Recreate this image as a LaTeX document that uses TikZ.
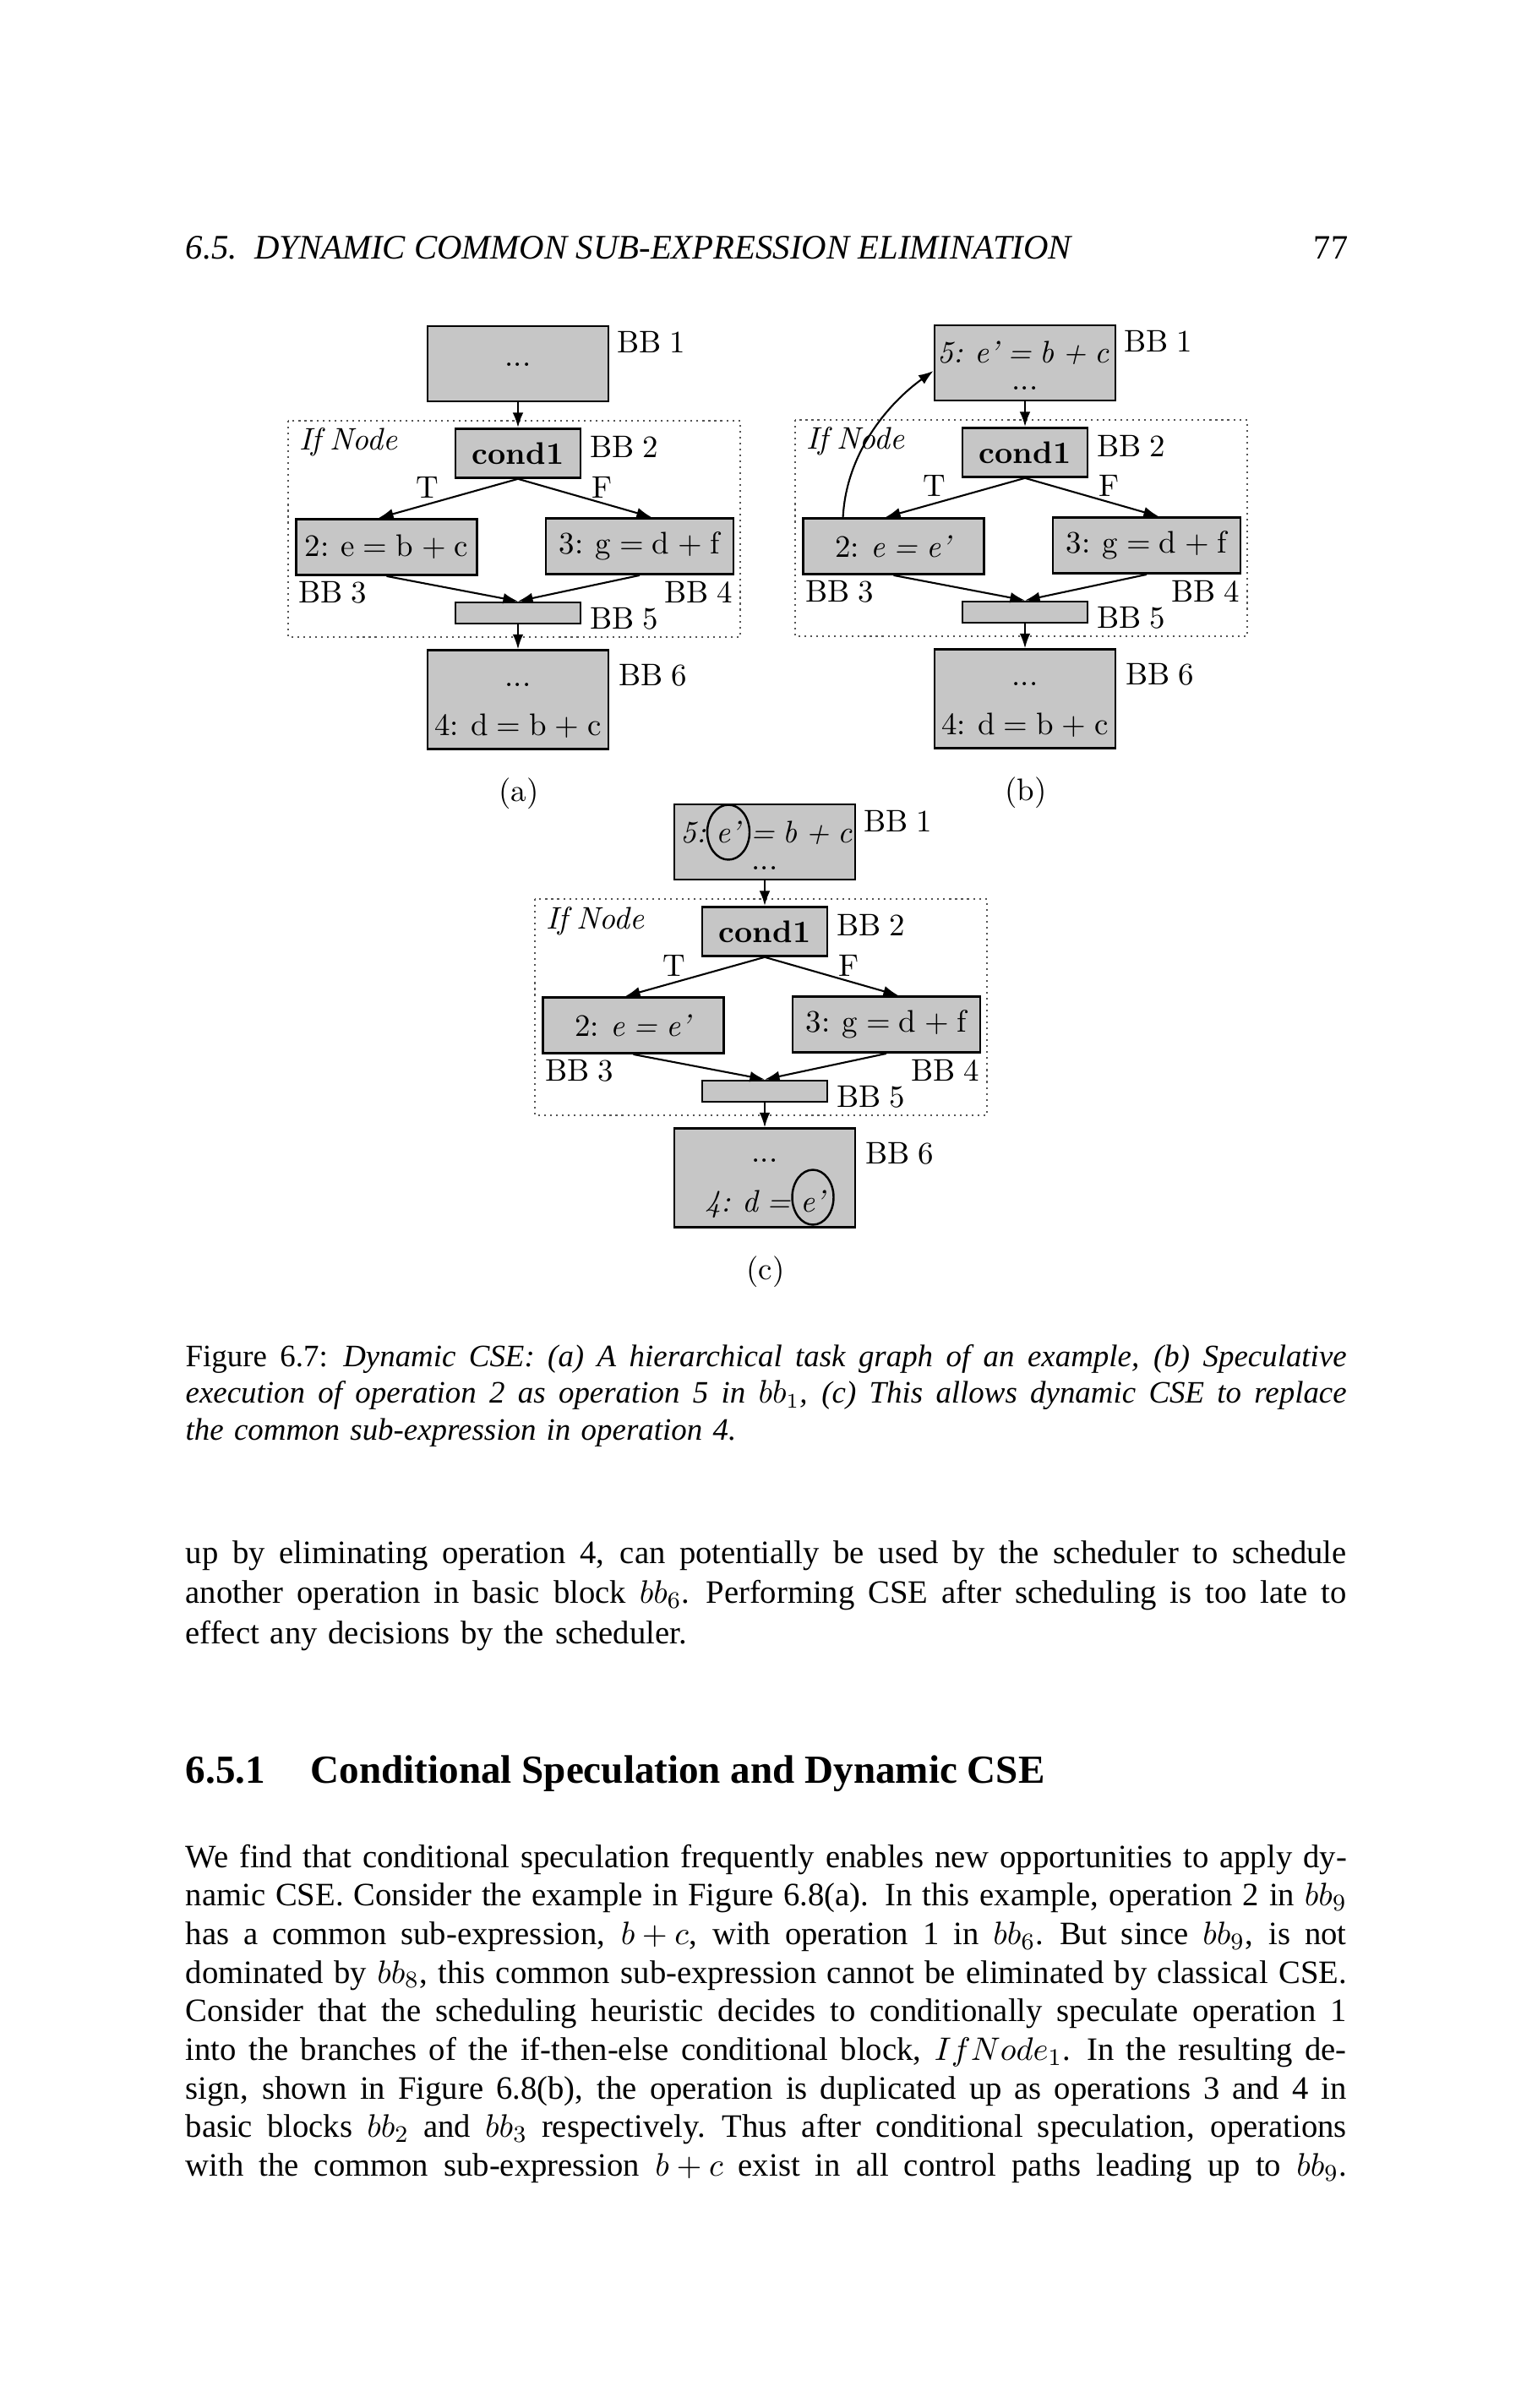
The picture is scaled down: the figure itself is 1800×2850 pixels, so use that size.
\documentclass[tikz,border=0pt]{standalone}
\usepackage{fontspec}
\newfontfamily\bookfont{Liberation Serif}
\usetikzlibrary{arrows.meta,positioning,calc}
\definecolor{boxgray}{RGB}{198,198,198}
\definecolor{framegray}{RGB}{85,85,85}
\newcommand{\diagfont}{\rmfamily\fontsize{10.5}{12.6}\selectfont\spaceskip=0.27em\relax}
\newcommand{\jline}[1]{\leavevmode\hbox to \linewidth{\spaceskip=0.25em plus 1em minus 0.05em\relax\medmuskip=4mu\relax\thickmuskip=5mu\relax #1}}

% one hierarchical task graph: #1 prefix, #2 text of BB 3
\newcommand{\ifgraph}[2]{%
  \node[bbox, minimum width=21.4mm, minimum height=8.9mm] (#1-bb1) at (272,-67.5) {};
  \node[bbox, minimum width=14.8mm, minimum height=5.8mm, font=\diagfont\bfseries] (#1-cond) at (272,38.4) {cond1};
  \node[bbox, minimum width=21.4mm, minimum height=6.6mm] (#1-bb3) at (116.5,149.5) {#2};
  \node[bbox, minimum width=22.2mm, minimum height=6.6mm] (#1-bb4) at (416,148.5) {3: g = d + f};
  \node[bbox, minimum width=14.8mm, minimum height=2.5mm] (#1-bb5) at (272,227.5) {};
  \node[bbox, minimum width=21.4mm, minimum height=11.65mm] (#1-bb6) at (272,330) {};
  \draw[ifframe] (0,0) rectangle (535,256);
  \node[bblabel, anchor=base west, font=\diagfont\itshape] (#1-if) at (13,35) {If Node};
  \node[bblabel, anchor=base west] (#1-l1) at (389,-80) {BB 1};
  \node[bblabel, anchor=base west] (#1-l2) at (357,43.5) {BB 2};
  \node[bblabel, anchor=base west] (#1-l3) at (12,215.5) {BB 3};
  \node[bblabel, anchor=base east] (#1-l4) at (526.5,215.5) {BB 4};
  \node[bblabel, anchor=base west] (#1-l5) at (357,246) {BB 5};
  \node[bblabel, anchor=base west] (#1-l6) at (391,313) {BB 6};
  \node[bblabel, anchor=base] (#1-t) at (165,91) {T};
  \node[bblabel, anchor=base] (#1-f) at (372,91) {F};
  \node[bblabel, anchor=base] (#1-cap) at (273,450) {(#1)};
  \draw[flow] (#1-bb1) -- (#1-cond);
  \draw[flow] (#1-cond.south) -- ($(#1-bb3.north)+(-9.5,0)$);
  \draw[flow] (#1-cond.south) -- ($(#1-bb4.north)+(14,0)$);
  \draw[flow] (#1-bb3.south) -- (#1-bb5.north);
  \draw[flow] (#1-bb4.south) -- (#1-bb5.north);
  \draw[flow] (#1-bb5) -- (#1-bb6);
}

\begin{document}
\begin{tikzpicture}[x=0.1mm, y=-0.1mm]
\tikzset{
  bbox/.style={draw=black, line width=0.8pt, fill=boxgray, inner sep=0pt, font=\diagfont},
  bblabel/.style={inner sep=0pt, font=\diagfont},
  flow/.style={-{Latex[length=5pt,width=3.6pt]}, line width=0.6pt},
  ifframe/.style={draw=framegray, line width=0.6pt, dash pattern=on 0.6pt off 1.4pt},
  booktext/.style={inner sep=0pt, anchor=base west, text width=137.4mm, align=left, font=\bookfont\fontsize{11}{13.6}\selectfont}
}
\fill[white] (0,0) rectangle (1800,2850);
\useasboundingbox (0,0) rectangle (1800,2850);

% running head
\node[inner sep=0pt, anchor=base west, font=\bookfont\itshape\fontsize{11.6}{13.6}\selectfont] (head) at (219,307) {6.5.\enspace DYNAMIC COMMON SUB-EXPRESSION ELIMINATION};
\node[inner sep=0pt, anchor=base east, font=\bookfont\fontsize{11.5}{13.6}\selectfont] (pageno) at (1596,307) {77};

% (a)
\begin{scope}[shift={(341,498)}]
\ifgraph{a}{2: e = b + c}
\node[bblabel, anchor=base] (a-dots1) at (272,-64) {...};
\node[bblabel, anchor=base] (a-dots6) at (272,314) {...};
\node[bblabel, anchor=base] (a-op4) at (272,372) {4: d = b + c};
\end{scope}

% (b)
\begin{scope}[shift={(941,497)}]
\ifgraph{b}{2: \textit{e = e’}}
\node[bblabel, anchor=base, font=\diagfont\itshape] (b-op5) at (270,-67) {5: e’ = b + c};
\node[bblabel, anchor=base] (b-dots1) at (272,-35) {...};
\node[bblabel, anchor=base] (b-dots6) at (272,314) {...};
\node[bblabel, anchor=base] (b-op4) at (272,372) {4: d = b + c};
\draw[flow] ($(b-bb3.north west)+(48.5,0)$) .. controls +(4,-76.6) and +(-53,38) .. ($(b-bb1.west)+(0,9.5)$);
\end{scope}

% (c)
\begin{scope}[shift={(633,1064)}]
\ifgraph{c}{2: \textit{e = e’}}
\node[bblabel, anchor=base, font=\diagfont\itshape] (c-ep1) at (229,-67) {e’};
\node[bblabel, anchor=base east, font=\diagfont\itshape] (c-n5) at ([xshift=-3pt]c-ep1.base west) {5:};
\node[bblabel, anchor=base west, font=\diagfont\itshape] (c-bc) at ([xshift=3pt]c-ep1.base east) {= b + c};
\draw[line width=0.7pt] ($(c-ep1.base)+(0,-12)$) ellipse [x radius=25, y radius=32.5];
\node[bblabel, anchor=base] (c-dots1) at (272,-35) {...};
\node[bblabel, anchor=base] (c-dots6) at (272,311) {...};
\node[bblabel, anchor=base, font=\diagfont\itshape] (c-ep2) at (329,370) {e’};
\node[bblabel, anchor=base east, font=\diagfont\itshape] (c-n4) at ([xshift=-3pt]c-ep2.base west) {4: d =};
\draw[line width=0.7pt] ($(c-ep2.base)+(0,-17)$) ellipse [x radius=24.5, y radius=32.5];
\end{scope}

% caption
\node[booktext, font=\bookfont\fontsize{10.5}{12.5}\selectfont] (caption) at (219,1617) {%
\jline{Figure 6.7: \textit{Dynamic CSE: (a) A hierarchical task graph of an example, (b) Speculative}}\\
\jline{\textit{execution of operation 2 as operation 5 in $bb_1$, (c) This allows dynamic CSE to replace}}\\
\textit{the common sub-expression in operation 4.}};

% text
\node[booktext] (para1) at (219,1850) {%
\jline{up by eliminating operation 4, can potentially be used by the scheduler to schedule}\\
\jline{another operation in basic block $bb_6$. Performing CSE after scheduling is too late to}\\
effect any decisions by the scheduler.};

\node[inner sep=0pt, anchor=base west, font=\bookfont\bfseries\fontsize{13.4}{16}\selectfont] (secnum) at (219,2110) {6.5.1};
\node[inner sep=0pt, anchor=base west, font=\bookfont\bfseries\fontsize{13.4}{16}\selectfont] (sectitle) at (367,2110) {Conditional Speculation and Dynamic CSE};

\node[booktext, font=\bookfont\fontsize{11}{13}\selectfont] (para2) at (219,2210) {%
\jline{We find that conditional speculation frequently enables new opportunities to apply dy-}\\
\jline{namic CSE. Consider the example in Figure 6.8(a). In this example, operation 2 in $bb_9$}\\
\jline{has a common sub-expression, $b + c$, with operation 1 in $bb_6$. But since $bb_9$, is not}\\
\jline{dominated by $bb_8$, this common sub-expression cannot be eliminated by classical CSE.}\\
\jline{Consider that the scheduling heuristic decides to conditionally speculate operation 1}\\
\jline{into the branches of the if-then-else conditional block, $IfNode_1$. In the resulting de-}\\
\jline{sign, shown in Figure 6.8(b), the operation is duplicated up as operations 3 and 4 in}\\
\jline{basic blocks $bb_2$ and $bb_3$ respectively. Thus after conditional speculation, operations}\\
\jline{with the common sub-expression $b + c$ exist in all control paths leading up to $bb_9$.}};
\end{tikzpicture}
\end{document}
